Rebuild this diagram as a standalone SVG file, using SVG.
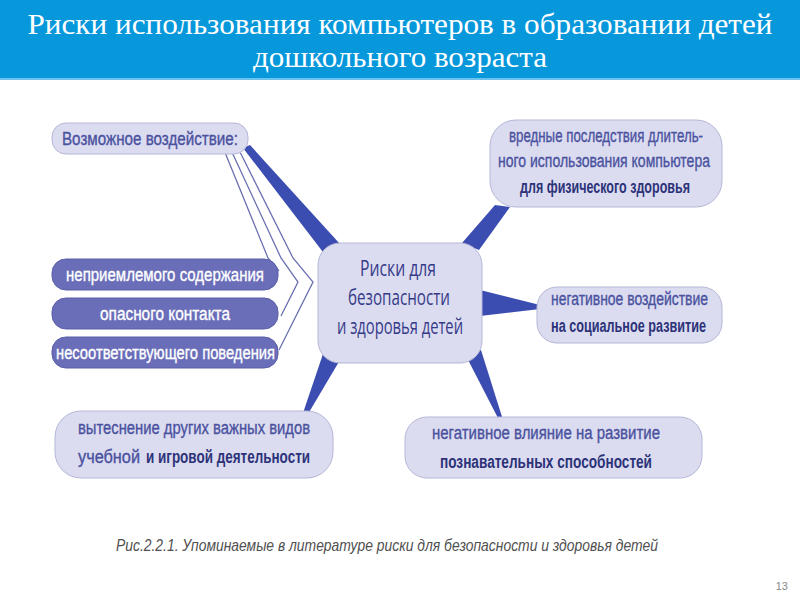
<svg xmlns="http://www.w3.org/2000/svg" width="800" height="600" viewBox="0 0 800 600">
<defs>
<style>
.title{font-family:"Liberation Serif","Times New Roman",serif;font-size:30px;fill:#ffffff;text-anchor:middle}
.lt{fill:#dcdcf1;stroke:#b4b6d6;stroke-width:1}
.dk{fill:#6a6eb9;stroke:#5a5ea8;stroke-width:1}
.t{font-family:"Liberation Sans",Arial,sans-serif;font-size:18px;fill:#4a529e;stroke:#4a529e;stroke-width:0.35}
.b{font-weight:bold;fill:#2c3378;stroke:none}
.w{font-family:"Liberation Sans",Arial,sans-serif;font-size:18px;fill:#ffffff;stroke:#ffffff;stroke-width:0.35}
.c{font-family:"Open Sans","Liberation Sans",sans-serif;font-size:21px;fill:#353a88;text-anchor:middle}
.wedge{fill:#3b4db0}
.thin{fill:none;stroke:#6b70b2;stroke-width:1.3}
.cap{font-family:"Liberation Sans",Arial,sans-serif;font-size:17px;font-style:italic;fill:#505050}
</style>
</defs>
<rect x="0" y="0" width="800" height="78" fill="#0798dc"/>
<rect x="0" y="78" width="800" height="2" fill="#6cc4ee"/>
<text class="title" x="400" y="34" textLength="745" lengthAdjust="spacingAndGlyphs">Риски использования компьютеров в образовании детей</text>
<text class="title" x="400" y="67" textLength="294" lengthAdjust="spacingAndGlyphs">дошкольного возраста</text>

<g id="connectors">
<polygon class="wedge" points="243,148 250,145 340,244 326,256"/>
<polygon class="wedge" points="495,205 510,207 479,250 462,243"/>
<polygon class="wedge" points="480,290 540,305 540,309 480,316"/>
<polygon class="wedge" points="465,354 481,350 503,420 499,420"/>
<polygon class="wedge" points="324,351 340,360 308,414 303,413"/>
<polyline class="thin" points="224,150 268,258 279,271"/>
<polyline class="thin" points="231,150 281,258 298,282 281,316"/>
<polyline class="thin" points="239,150 293,258 313,282 279,350"/>
</g>

<g id="node-vozdeystvie">
<rect class="lt" x="52" y="123" width="196" height="31" rx="14"/>
<text class="t" x="62" y="145" textLength="176" lengthAdjust="spacingAndGlyphs">Возможное воздействие:</text>
</g>
<g id="node-content">
<rect class="dk" x="52" y="259" width="226" height="31" rx="14"/>
<text class="w" x="66" y="281" textLength="198" lengthAdjust="spacingAndGlyphs">неприемлемого содержания</text>
</g>
<g id="node-contact">
<rect class="dk" x="52" y="298" width="226" height="31" rx="14"/>
<text class="w" x="100" y="320" textLength="130" lengthAdjust="spacingAndGlyphs">опасного контакта</text>
</g>
<g id="node-behavior">
<rect class="dk" x="52" y="337" width="226" height="31" rx="14"/>
<text class="w" x="56" y="359" textLength="219" lengthAdjust="spacingAndGlyphs">несоответствующего поведения</text>
</g>
<g id="node-center">
<rect class="lt" x="318" y="243" width="164" height="120" rx="22"/>
<text class="c" x="398" y="276" textLength="76" lengthAdjust="spacingAndGlyphs">Риски для</text>
<text class="c" x="399" y="305" textLength="102" lengthAdjust="spacingAndGlyphs">безопасности</text>
<text class="c" x="400" y="334" textLength="126" lengthAdjust="spacingAndGlyphs">и здоровья детей</text>
</g>
<g id="node-physical">
<rect class="lt" x="490" y="120" width="232" height="87" rx="26"/>
<text class="t" x="509" y="142" textLength="194" lengthAdjust="spacingAndGlyphs">вредные последствия длитель-</text>
<text class="t" x="498" y="167" textLength="212" lengthAdjust="spacingAndGlyphs">ного использования компьютера</text>
<text class="t b" x="520" y="193" textLength="170" lengthAdjust="spacingAndGlyphs">для физического здоровья</text>
</g>
<g id="node-social">
<rect class="lt" x="537" y="287" width="185" height="56" rx="20"/>
<text class="t" x="551" y="305" textLength="157" lengthAdjust="spacingAndGlyphs">негативное воздействие</text>
<text class="t b" x="551" y="332" textLength="155" lengthAdjust="spacingAndGlyphs">на социальное развитие</text>
</g>
<g id="node-cognitive">
<rect class="lt" x="405" y="417" width="297" height="61" rx="22"/>
<text class="t" x="432" y="439" textLength="228" lengthAdjust="spacingAndGlyphs">негативное влияние на развитие</text>
<text class="t b" x="440" y="468" textLength="212" lengthAdjust="spacingAndGlyphs">познавательных способностей</text>
</g>
<g id="node-displacement">
<rect class="lt" x="55" y="411" width="278" height="67" rx="26"/>
<text class="t" x="78" y="434" textLength="232" lengthAdjust="spacingAndGlyphs">вытеснение других важных видов</text>
<text class="t" x="78" y="463" textLength="62" lengthAdjust="spacingAndGlyphs">учебной</text>
<text class="t b" x="146" y="463" textLength="164" lengthAdjust="spacingAndGlyphs">и игровой деятельности</text>
</g>

<text class="cap" x="116" y="551" textLength="542" lengthAdjust="spacingAndGlyphs">Рис.2.2.1. Упоминаемые в литературе риски для безопасности и здоровья детей</text>
<text x="788" y="590" font-family="Liberation Sans, Arial, sans-serif" font-size="11" fill="#8a8a8a" text-anchor="end">13</text>
</svg>
